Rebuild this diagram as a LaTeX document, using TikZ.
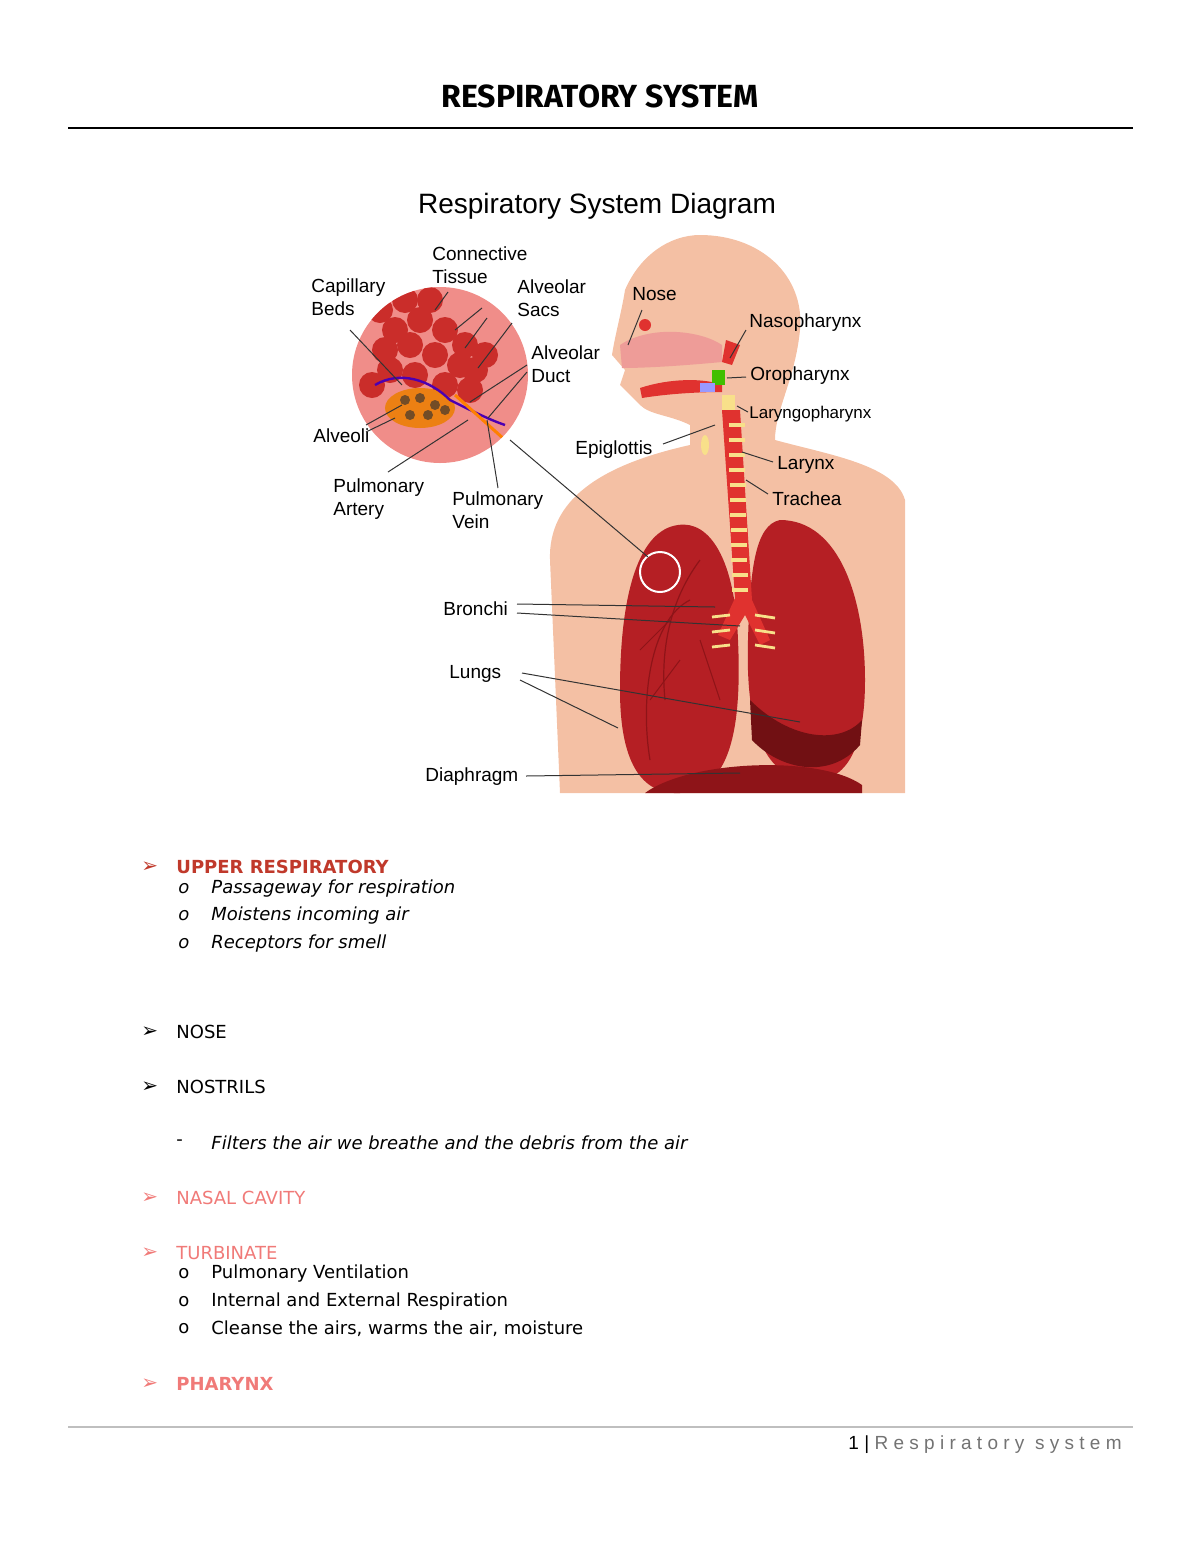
\documentclass[tikz,border=0pt]{standalone}
\usepackage{fontspec}
\setmainfont{DejaVu Sans}
\newfontfamily\lab{Liberation Sans}
\newfontfamily\ttl{Fira Sans}
\newfontfamily\sym{DejaVu Sans}
\definecolor{peach}{HTML}{F4C0A4}
\definecolor{lung}{HTML}{B51F24}
\definecolor{lungd}{HTML}{8E1418}
\definecolor{trach}{HTML}{E0322F}
\definecolor{ring}{HTML}{F8E08A}
\definecolor{pinkc}{HTML}{EE9C98}
\definecolor{hdr}{HTML}{C0392B}
\definecolor{lred}{HTML}{F07A78}
\begin{document}
\begin{tikzpicture}[x=0.5pt,y=-0.5pt,
  lbl/.style={font=\lab\fontsize{9.5}{11.5}\selectfont,anchor=north west,inner sep=0pt,align=left},
  ld/.style={draw=black!80,line width=0.5pt},
  bul/.style={font=\sym\bfseries\fontsize{10}{11}\selectfont,anchor=west,inner sep=0pt},
  txt/.style={font=\fontsize{9}{11}\selectfont,anchor=west,inner sep=0pt},
  itx/.style={font=\itshape\fontsize{9}{11}\selectfont,anchor=west,inner sep=0pt}]
\useasboundingbox (0,0) rectangle (1200,1553);
% header
\node[font=\ttl\bfseries\fontsize{16}{18}\selectfont] (title) at (600,96) {RESPIRATORY SYSTEM};
\draw[line width=0.8pt] (68,128) -- (1133,128);
\node[font=\lab\fontsize{14}{16}\selectfont] (dtitle) at (597,206) {Respiratory System Diagram};
% body silhouette
\fill[peach] (700,235) .. controls (760,235) and (805,275) .. (800,330)
  .. controls (795,380) and (775,410) .. (775,440)
  .. controls (830,455) and (895,465) .. (905,500) -- (905,793) -- (560,793)
  -- (550,560) .. controls (548,500) and (600,465) .. (690,445)
  -- (690,425) .. controls (670,415) and (650,415) .. (640,405)
  -- (620,385) -- (625,370) -- (612,355) .. controls (615,335) and (622,310) .. (625,290)
  .. controls (640,255) and (670,235) .. (700,235) -- cycle;
% nasal cavity and mouth
\fill[pinkc] (620,345) .. controls (650,325) and (700,330) .. (722,345) -- (722,362) .. controls (690,365) and (650,368) .. (622,368) -- cycle;
\fill[trach] (640,388) .. controls (670,378) and (705,378) .. (722,385) -- (722,392) .. controls (690,392) and (660,395) .. (642,398) -- cycle;
\fill[trach] (645,325) circle (6);
\fill[trach] (726,340) -- (740,345) -- (732,365) -- (722,362) -- cycle;
\fill[green!50!olive] (712,370) rectangle (725,385);
\fill[blue!40] (700,383) rectangle (715,392);
\fill[ring] (722,395) rectangle (735,410);
\fill[ring] (705,445) ellipse (4 and 10);
% lungs
\fill[lung] (678,525) .. controls (710,520) and (735,560) .. (738,640) .. controls (742,730) and (730,790) .. (680,793) .. controls (640,795) and (620,760) .. (620,690) .. controls (620,590) and (640,530) .. (678,525) -- cycle;
\fill[lung] (780,520) .. controls (840,520) and (865,600) .. (865,680) .. controls (865,760) and (840,785) .. (805,780) .. controls (770,775) and (745,740) .. (748,640) .. controls (750,570) and (755,525) .. (780,520) -- cycle;
\fill[lungd!80!black] (750,700) .. controls (790,740) and (840,745) .. (862,720) -- (860,745) .. controls (830,780) and (780,770) .. (752,740) -- cycle;
\fill[lungd] (645,793) .. controls (690,760) and (820,755) .. (862,785) -- (862,793) -- cycle;
% trachea
\fill[trach] (722,410) -- (740,410) -- (752,600) -- (770,640) -- (760,645) -- (745,615) -- (730,640) -- (718,635) -- (735,598) -- cycle;
\foreach \yy in {425,440,455,470,485,500,515,530,545,560,575,590}
  \draw[ring,line width=1.6pt] (728+\yy*0.02-8,\yy) -- (744+\yy*0.02-8,\yy);
\foreach \yy in {615,630,645}
  {\draw[ring,line width=1.4pt] (755,\yy) -- (775,\yy+3);
   \draw[ring,line width=1.4pt] (712,\yy+2) -- (730,\yy);}
\draw[lungd,line width=0.6pt] (700,560) .. controls (670,600) and (660,650) .. (665,700);
\draw[lungd,line width=0.6pt] (690,600) .. controls (650,620) and (640,700) .. (650,760);
\draw[lungd,line width=0.5pt] (670,620) -- (640,650) (680,660) -- (650,700) (700,640) -- (720,700);
% magnifier
\fill[pinkc!90!red] (440,375) circle (88);
\begin{scope}
\clip (440,375) circle (88);
\foreach \p in {{395,330},{420,320},{445,330},{465,345},{385,350},{410,345},{435,355},{460,365},{475,370},{390,370},{415,375},{445,385},{380,310},{405,300},{430,300},{470,390},{372,385},{485,355}}
  \fill[trach!90!black] (\p) circle (13);
\fill[orange!70!brown] (420,408) ellipse (35 and 20);
\foreach \p in {{405,400},{420,398},{435,405},{410,415},{428,415},{445,410}}
  \fill[brown!60!black] (\p) circle (5);
\draw[blue!60!purple,line width=1.2pt] (375,385) .. controls (400,370) and (430,380) .. (450,400) .. controls (470,410) and (490,420) .. (505,425);
\draw[orange,line width=1.5pt] (455,395) -- (505,440);
\end{scope}
\draw[white,line width=1pt] (660,572) circle (20);
% labels
\node[lbl] (ct) at (432,246) {Connective\\Tissue};
\node[lbl] (cb) at (311,278) {Capillary\\Beds};
\node[lbl] (as) at (517,279) {Alveolar\\Sacs};
\node[lbl] (ad) at (531,345) {Alveolar\\Duct};
\node[lbl] (alv) at (313,428) {Alveoli};
\node[lbl] (pa) at (333,478) {Pulmonary\\Artery};
\node[lbl] (pv) at (452,491) {Pulmonary\\Vein};
\node[lbl] (nose) at (632,287) {Nose};
\node[lbl] (naso) at (749,313) {Nasopharynx};
\node[lbl] (oro) at (750,366) {Oropharynx};
\node[lbl,font=\lab\fontsize{8.5}{10}\selectfont] (laryngo) at (749,406) {Laryngopharynx};
\node[lbl] (epi) at (575,440) {Epiglottis};
\node[lbl] (lar) at (777,456) {Larynx};
\node[lbl] (tra) at (772,491) {Trachea};
\node[lbl] (bro) at (443,601) {Bronchi};
\node[lbl] (lun) at (449,665) {Lungs};
\node[lbl] (dia) at (425,767) {Diaphragm};
% leader lines
\coordinate (e1) at (435,310); \draw[ld] (448,292) -- (e1);
\coordinate (e2) at (402,385); \draw[ld] (350,330) -- (e2);
\draw[ld] (482,308) -- (455,330); \draw[ld] (487,318) -- (465,348); \draw[ld] (512,323) -- (478,368);
\draw[ld] (527,365) -- (470,402); \draw[ld] (527,372) -- (488,418);
\draw[ld] (366,425) -- (402,405); \draw[ld] (366,432) -- (395,418);
\draw[ld] (388,472) -- (468,420);
\draw[ld] (498,488) -- (487,420);
\draw[ld] (510,440) -- (648,557);
\draw[ld] (642,310) -- (628,345);
\draw[ld] (746,330) -- (730,358);
\draw[ld] (746,377) -- (727,378);
\draw[ld] (748,412) -- (737,406);
\draw[ld] (663,444) -- (715,425);
\draw[ld] (773,462) -- (742,452);
\draw[ld] (768,494) -- (746,480);
\draw[ld] (517,604) -- (715,607); \draw[ld] (517,613) -- (740,626);
\draw[ld] (522,673) -- (800,722); \draw[ld] (520,680) -- (618,728);
\draw[ld] (526,776) -- (740,773);
% text list
\node[bul,text=hdr] (b1) at (141,867) {➢};
\node[anchor=west,inner sep=0pt,text=hdr,font=\bfseries\fontsize{9}{11}\selectfont] (t1) at (176,867) {UPPER RESPIRATORY};
\foreach \yy/\tt in {889/Passageway for respiration,916/Moistens incoming air,944/Receptors for smell}
  {\node[txt] at (178,\yy) {\itshape o}; \node[itx] at (211,\yy) {\tt};}
\node[bul] (b2) at (141,1032) {➢}; \node[txt] (t2) at (176,1032) {NOSE};
\node[bul] (b3) at (141,1087) {➢}; \node[txt] (t3) at (176,1087) {NOSTRILS};
\node[txt] at (176,1143) {-}; \node[itx] (t4) at (211,1143) {Filters the air we breathe and the debris from the air};
\node[bul,text=lred] (b5) at (141,1198) {➢}; \node[txt,text=lred] (t5) at (176,1198) {NASAL CAVITY};
\node[bul,text=lred] (b6) at (141,1253) {➢}; \node[txt,text=lred] (t6) at (176,1253) {TURBINATE};
\foreach \yy/\tt in {1274/Pulmonary Ventilation,1302/Internal and External Respiration,1329/{Cleanse the airs, warms the air, moisture}}
  {\node[txt] at (178,\yy) {o}; \node[txt] at (211,\yy) {\tt};}
\node[bul,text=lred] (b7) at (141,1384) {➢}; \node[txt,text=lred,font=\bfseries\fontsize{9}{11}\selectfont] (t7) at (176,1384) {PHARYNX};
% footer
\draw[black!25,line width=1.2pt] (68,1427) -- (1133,1427);
\node[anchor=east,inner sep=0pt,font=\lab\fontsize{9.5}{11}\selectfont] (foot) at (1122,1445) {1 | \textcolor{black!55}{R e s p i r a t o r y\ \ s y s t e m}};
\end{tikzpicture}
\end{document}
